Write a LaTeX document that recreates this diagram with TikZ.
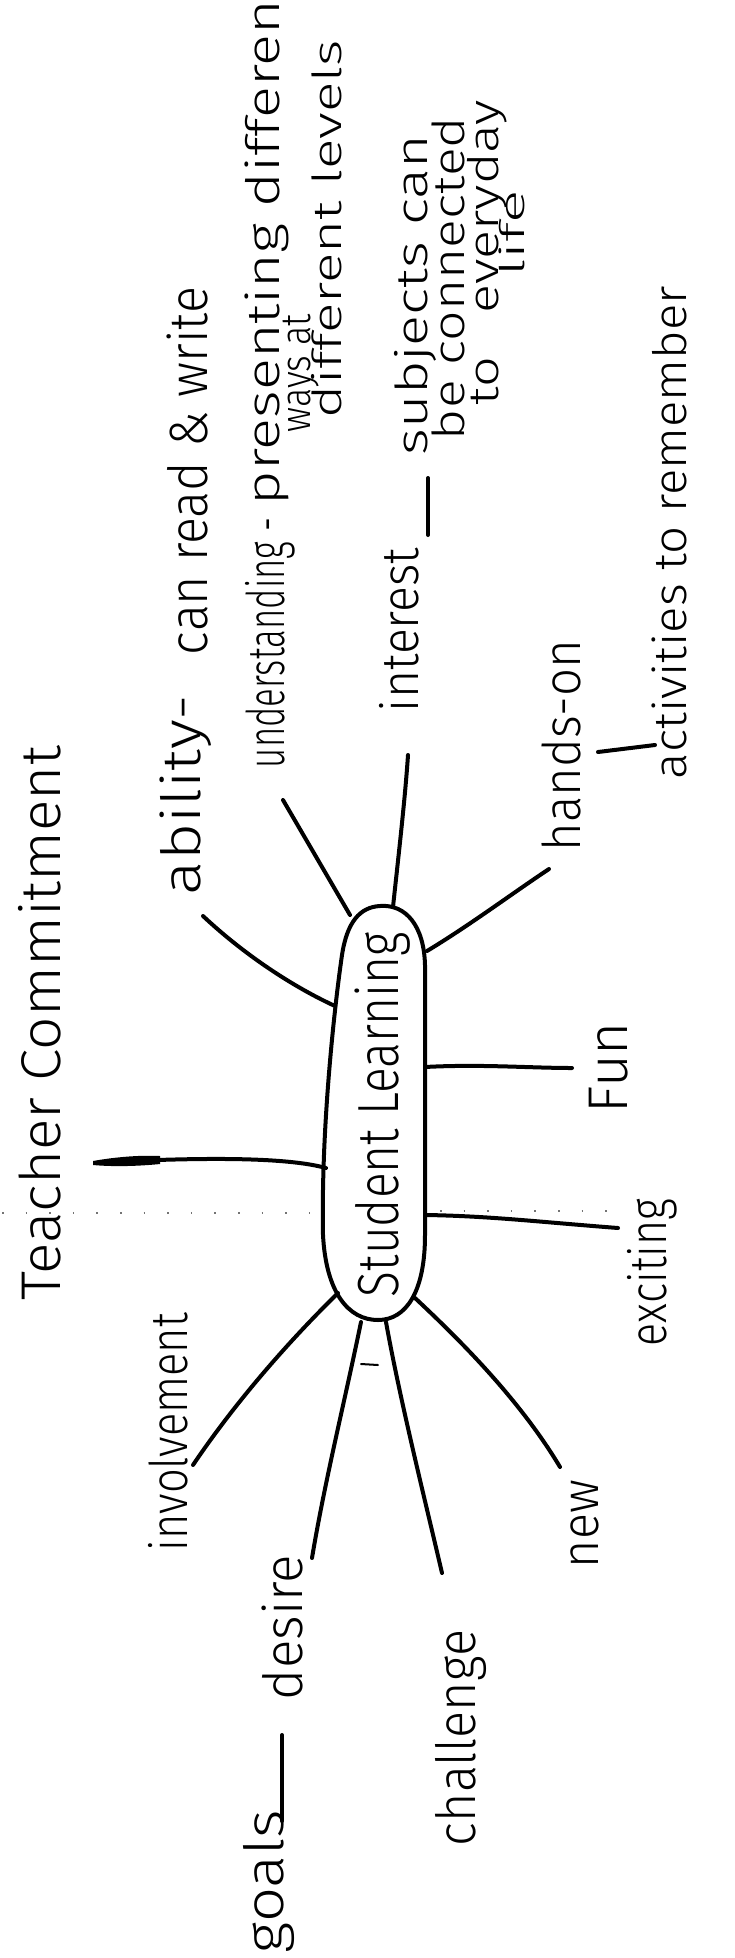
\documentclass[tikz,border=0pt]{standalone}
\usepackage{fontspec}
\usepackage{graphicx}
\IfFontExistsTF{Fira Sans Light}{\setmainfont{Fira Sans Light}}{%
  \IfFontExistsTF{Lato Light}{\setmainfont{Lato Light}}{%
    \IfFontExistsTF{Open Sans Light}{\setmainfont{Open Sans Light}}{%
      \setmainfont{Noto Sans}}}}
% stretch or squeeze a label along its reading direction to a given length (in pt)
\newcommand\hw[2]{\resizebox{#1pt}{\height}{#2}}
\newcommand\fs[1]{\fontsize{#1}{#1}\selectfont}
\begin{document}
\begin{tikzpicture}[x=1pt,y=-1pt,
  ink/.style={line width=4pt, line cap=round, line join=round},
  lbl/.style={rotate=90, anchor=base west, inner sep=0pt, outer sep=0pt},
  speck/.style={line width=1.6pt, black!55, dash pattern=on 1.6pt off 22pt}]
\useasboundingbox (0,0) rectangle (734,1958);

% ---- central topic ----
\draw[ink] (380,906) .. controls (406,904) and (424,926) .. (425,965)
  -- (425,1235) .. controls (425,1292) and (406,1320) .. (378,1320)
  .. controls (348,1320) and (326,1292) .. (323,1235)
  .. controls (321,1130) and (334,1010) .. (342,955)
  .. controls (347,922) and (360,907) .. (380,906) -- cycle;
\node[lbl, font=\fs{58}] (sl) at (398,1297) {\hw{365}{Student Learning}};

% ---- labels ----
\node[lbl, font=\fs{56}] (teacher) at (60,1300) {\hw{554}{Teacher Commitment}};
\node[lbl, font=\fs{54}] (ability) at (200,895) {\hw{200}{ability-}};
\node[lbl, font=\fs{54}] (readwrite) at (207,655) {\hw{368}{can read \& write}};
\node[lbl, font=\fs{52}] (underst) at (284,768) {\hw{250}{understanding -}};
\node[lbl, font=\fs{46}] (present) at (279,505) {\hw{525}{presenting different}};
\node[lbl, font=\fs{42}] (ways) at (310,432) {\hw{118}{ways at}};
\node[lbl, font=\fs{40}] (levels) at (341,418) {\hw{378}{different levels}};
\node[lbl, font=\fs{52}] (interest) at (418,712) {\hw{164}{interest}};
\node[lbl, font=\fs{44}] (subjects) at (427,455) {\hw{320}{subjects can}};
\node[lbl, font=\fs{44}] (connected) at (464,440) {\hw{323}{be connected}};
\node[lbl, font=\fs{42}] (everyday) at (498,405) {\hw{305}{to\hspace{0.8em}everyday}};
\node[lbl, font=\fs{34}] (life) at (524,277) {\hw{87}{life}};
\node[lbl, font=\fs{52}] (hands) at (580,851) {\hw{211}{hands-on}};
\node[lbl, font=\fs{46}] (activities) at (686,779) {\hw{493}{activities to remember}};
\node[lbl, font=\fs{56}] (fun) at (627,1113) {\hw{91}{Fun}};
\node[lbl, font=\fs{52}] (exciting) at (666,1346) {\hw{147}{exciting}};
\node[lbl, font=\fs{52}] (new) at (598,1568) {\hw{88}{new}};
\node[lbl, font=\fs{54}] (challenge) at (475,1846) {\hw{216}{challenge}};
\node[lbl, font=\fs{54}] (desire) at (302,1700) {\hw{145}{desire}};
\node[lbl, font=\fs{54}] (goals) at (283,1953) {\hw{143}{goals}};
\node[lbl, font=\fs{52}] (involve) at (187,1551) {\hw{238}{involvement}};

% ---- connector end points ----
\coordinate (eTeach) at (326,1168);   \coordinate (tTeach) at (157,1160);
\coordinate (eAbil) at (335,1006);    \coordinate (tAbil) at (203,916);
\coordinate (eUnd) at (350,915);      \coordinate (tUnd) at (283,800);
\coordinate (eInt) at (393,907);      \coordinate (tInt) at (408,755);
\coordinate (eHand) at (427,951);     \coordinate (tHand) at (549,869);
\coordinate (eFun) at (425,1067);     \coordinate (tFun) at (572,1068);
\coordinate (eExc) at (426,1215);     \coordinate (tExc) at (618,1228);
\coordinate (eNew) at (415,1298);     \coordinate (tNew) at (560,1467);
\coordinate (eChal) at (386,1322);    \coordinate (tChal) at (442,1573);
\coordinate (eDes) at (361,1322);     \coordinate (tDes) at (312,1558);
\coordinate (eInv) at (338,1293);     \coordinate (tInv) at (193,1465);
\coordinate (gA) at (282,1821);       \coordinate (gB) at (282,1735);
\coordinate (iA) at (428,535);        \coordinate (iB) at (428,478);
\coordinate (hA) at (598,752);        \coordinate (hB) at (655,745);

% ---- connectors ----
\fill (93,1161) .. controls (115,1157) and (140,1155) .. (160,1156)
  -- (160,1164) .. controls (140,1166) and (115,1167) .. (93,1165) -- cycle;
\draw[ink] (tTeach) .. controls (220,1158) and (290,1158) .. (eTeach);
\draw[ink] (eAbil) .. controls (300,990) and (250,960) .. (tAbil);
\draw[ink] (eUnd) -- (tUnd);
\draw[ink] (eInt) .. controls (398,860) and (405,800) .. (tInt);
\draw[ink] (eHand) .. controls (470,925) and (510,895) .. (tHand);
\draw[ink] (eFun) .. controls (480,1064) and (530,1068) .. (tFun);
\draw[ink] (eExc) .. controls (490,1216) and (540,1222) .. (tExc);
\draw[ink] (eNew) .. controls (460,1340) and (520,1400) .. (tNew);
\draw[ink] (eChal) .. controls (400,1400) and (425,1500) .. (tChal);
\draw[ink] (eDes) .. controls (345,1400) and (325,1480) .. (tDes);
\draw[ink] (eInv) .. controls (280,1350) and (230,1410) .. (tInv);
\draw[ink] (gA) -- (gB);
\draw[ink] (iA) -- (iB);
\draw[ink] (hA) -- (hB);

% ---- faint marks ----
\draw[line width=2pt, line cap=round] (361,1364) -- (378,1365);
\draw[speck] (2,1213) -- (330,1213);
\draw[speck] (440,1211) -- (625,1211);
\end{tikzpicture}
\end{document}
